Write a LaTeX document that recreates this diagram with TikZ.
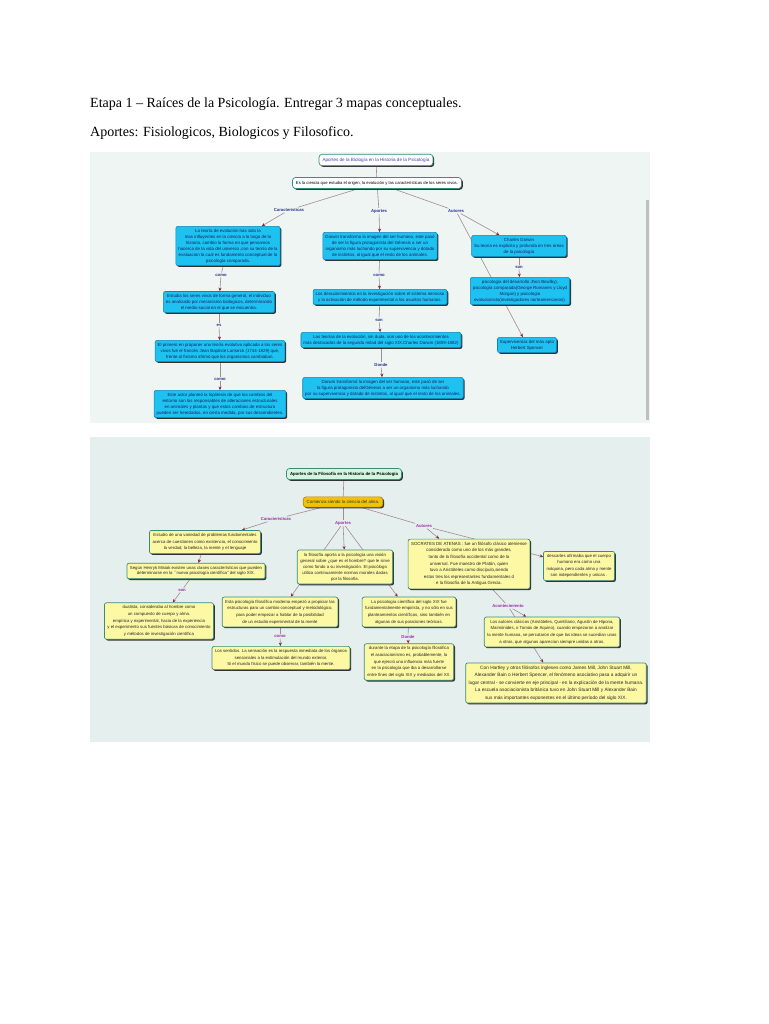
\documentclass[tikz,border=0pt]{standalone}
\usepackage{fontspec}
\setmainfont{Liberation Serif}
\newfontfamily\mapfont{Liberation Sans}
\usetikzlibrary{arrows.meta,shadows}
\pgfdeclarelayer{panel}
\pgfdeclarelayer{edges}
\pgfsetlayers{panel,edges,main}
\definecolor{paneltop}{HTML}{EEF5F3}
\definecolor{panelbot}{HTML}{E5EFED}
\definecolor{cyanfill}{HTML}{1DC2F0}
\definecolor{cyanline}{HTML}{0E86B8}
\definecolor{navytext}{HTML}{1A2060}
\definecolor{yellowfill}{HTML}{FCF8A4}
\definecolor{tealline}{HTML}{3C8C7C}
\definecolor{linkgray}{HTML}{A38C8E}
\definecolor{tipred}{HTML}{8E1E36}
\definecolor{labelblue}{HTML}{2A2F8A}
\definecolor{labelpurple}{HTML}{9B2CA6}
\definecolor{mintfill}{HTML}{D4F6DF}
\definecolor{goldfill}{HTML}{F2C300}
\definecolor{goldline}{HTML}{B38B00}
\definecolor{titleblue}{HTML}{3445B8}
\begin{document}
\begin{tikzpicture}[x=1pt,y=-1pt,
        shadowed/.style = {drop shadow={shadow xshift=1.3pt,
            shadow yshift=-1.3pt, fill=black!80, opacity=1}},
        cyanbox/.style = {shadowed, draw=cyanline, fill=cyanfill,
            rounded corners=2pt, line width=0.6pt, align=center,
            text=navytext, inner sep=2.5pt,
            font=\mapfont\fontsize{4.4}{6}\selectfont},
        yellowbox/.style = {shadowed, draw=tealline, fill=yellowfill,
            rounded corners=2pt, line width=0.7pt, align=center,
            text=black!85, inner sep=3pt,
            font=\mapfont\fontsize{4.3}{6.6}\selectfont},
        whitebox/.style = {shadowed, draw=tealline, fill=white,
            rounded corners=3pt, line width=0.7pt, inner sep=3.5pt,
            font=\mapfont\fontsize{4.3}{5}\selectfont},
        toplabel/.style = {text=labelblue, inner sep=1pt,
            font=\mapfont\bfseries\fontsize{4.2}{5}\selectfont},
        botlabel/.style = {text=labelpurple, inner sep=1pt,
            font=\mapfont\bfseries\fontsize{4.2}{5}\selectfont},
        link/.style = {draw=linkgray, line width=0.6pt},
        arr/.style = {link, -{Stealth[length=3.5pt,width=3pt,color=tipred]}}]

    \useasboundingbox (0,0) rectangle (768,1024);

    % Heading
    \node[anchor=base west, inner sep=0, font=\fontsize{14}{16}\selectfont]
        (head1) at (90,108) {Etapa 1 -- Raíces de la Psicología. Entregar 3 mapas conceptuales.};
    \node[anchor=base west, inner sep=0, font=\fontsize{14}{16}\selectfont]
        (head2) at (90,137) {Aportes: Fisiologicos, Biologicos y Filosofico.};

    % Panels
    \begin{pgfonlayer}{panel}
        \fill[white] (0,0) rectangle (768,1024);
        \fill[paneltop] (90,152) rectangle (650,423);
        \fill[black!25] (646,200) rectangle (649,420);
        \fill[panelbot] (90,437) rectangle (650,742);
    \end{pgfonlayer}

    % Biologia map
    \node[whitebox, text=titleblue, font=\mapfont\fontsize{4.6}{5}\selectfont] (btitle) at (376,160)
        {Aportes de la Biología en la Historia de la Psicología};
    \node[whitebox, text=black, font=\mapfont\fontsize{4.2}{5}\selectfont] (bdef) at (377,183)
        {Es la ciencia que estudia el origen, la evolución y las características de los seres vivos.};
    \node[toplabel] (bcar) at (289,210) {Caracteristicas};
    \node[toplabel] (bapo) at (379,211) {Aportes};
    \node[toplabel] (baut) at (456,211) {Autores};

    \node[cyanbox] (bleft1) at (228,246) {La teoría de evolución has sido la\\
        mas influyentes en la ciencia a lo largo de la\\
        historia, cambio la forma en que pensamos\\
        hacerca de la vida del universo ,con su teoría de la\\
        evaluacion la cual es fundamento conceptual de la\\
        psicología comparada.};
    \node[toplabel] (bcomo1) at (221,275) {como};
    \node[cyanbox] (bleft2) at (219,302) {Estudia los seres vivos de forma general, el individuo\\
        es analizado por  mecanismo biologicos, determinando\\
        el medio social en el que se encuentra.};
    \node[toplabel] (bes) at (219,325) {es};
    \node[cyanbox] (bleft3) at (220,351) {El primero en proponer una teoría evolutiva aplicada a los seres\\
        vivos fue el francés Jean Baptiste Lamarck (1744-1829) que,\\
        frente al fixismo afirmó que los organismos cambiaban.};
    \node[toplabel] (bcomo2) at (220,379) {como};
    \node[cyanbox] (bleft4) at (220,404) {Este actor planteó la hipótesis de que los cambios del\\
        entorno son los responsables de alteraciones  estructurales\\
        en animales y plantas y que estos cambios de estructura\\
        pueden ser heredados, en cierta medida, por sus descendientes.};

    \node[cyanbox] (bmid1) at (380,246) {Darwin transformo la imagen del ser humano, este pasó\\
        de ser la figura protagonista del Génesis a ser un\\
        organismo más luchando por su supervivencia y dotado\\
        de instintos, al igual que el resto de los animales.};
    \node[toplabel] (bcomo3) at (379,275) {como};
    \node[cyanbox] (bmid2) at (380,297) {Los descubrimientos en la investigación sobre el sistema nervioso\\
        y la activación de método experimental a los asuntos humanos.};
    \node[toplabel] (bson1) at (379,320) {son};
    \node[cyanbox] (bmid3) at (381,340) {Las teorías de la evolución, sin duda, son uno de los acontecimientos\\
        más destacados de la segunda mitad del siglo XIX.Charles Darwin (1809-1882)};
    \node[toplabel] (bdonde) at (381,365) {Donde};
    \node[cyanbox] (bmid4) at (383,388) {Darwin transformó la imagen del ser humano, este pasó de ser\\
        la figura protagonista delGénesis a ser un organismo más luchando\\
        por su supervivencia y dotado de instintos, al igual que el resto de los animales.};

    \node[cyanbox] (bright1) at (519,246) {Charles Darwin\\
        Su teoría es explicita y profunda en tres áreas\\
        de la psicología};
    \node[toplabel] (bson2) at (519,267) {son};
    \node[cyanbox] (bright2) at (520,291) {psicología del desarrollo  Jhon Bowlby),\\
        psicología comparada(George Romanes y Lloyd\\
        Morgan) y psicología\\
        evolucionista(investigadores norteamericanos).};
    \node[cyanbox] (bright3) at (527,345) {Supervivencia del más apto\\
        Herbert Spencer};

    % Filosofia map
    \node[whitebox, fill=mintfill, font=\mapfont\bfseries\fontsize{4.3}{5}\selectfont]
        (ftitle) at (344,474) {Aportes de la Filosofía en la Historia de la Psicología};
    \node[whitebox, fill=goldfill, draw=goldline, text=black!80, font=\mapfont\fontsize{4.4}{5}\selectfont]
        (fdef) at (343,502) {Comienza siendo la ciencia del alma.};
    \node[botlabel] (fcar) at (276,519) {Caracteristicas};
    \node[botlabel] (fapo) at (343,523) {Aportes};
    \node[botlabel] (faut) at (424,526) {Autores};

    \node[yellowbox] (fleft1) at (205,542) {Estudio de una variedad de problemas fundamentales\\
        acerca de cuestiones como existencia, el conocimiento\\
        la verdad, la belleza, la mente y el lenguaje};
    \node[yellowbox, font=\mapfont\fontsize{4.3}{5.4}\selectfont] (fleft2) at (196,571)
        {Según Henryk Misiak existen unas clases características que pueden\\
        determinarse en la ``nueva psicología científica'' del siglo XIX.};
    \node[botlabel] (fson) at (182,590) {son};
    \node[yellowbox] (fleft3) at (159,621) {dualista, consideraba al hombre como\\
        un compuesto de cuerpo y alma.\\
        empírica y experimental, hacia de la experiencia\\
        y el experimento sus fuentes básicas de conocimiento\\
        y métodos de investigación científica};

    \node[yellowbox, font=\mapfont\fontsize{4.3}{6}\selectfont] (fmid1) at (345,567)
        {la filosofía aporta a la psicología una visión\\
        general sobre ¿que es el hombre? que le sirve\\
        como fondo a su investigación. El psicólogo\\
        utiliza continuamente normas morales dadas\\
        por la filosofía.};
    \node[yellowbox] (fmid2) at (280,612) {Esta psicología filosófica moderna empezó a propiciar las\\
        estructuras para un cambio conceptual y metodológico,\\
        para poder empezar a hablar de la posibilidad\\
        de un estudio experimental de la mente};
    \node[botlabel] (fcomo) at (280,636) {como};
    \node[yellowbox] (fmid3) at (281,658) {Los sentidos. La sensación es la respuesta inmediata de los órganos\\
        sensoriales a la estimulación del mundo exterior.\\
        Si el mundo físico se puede observar, también la mente.};
    \node[yellowbox] (fmid4) at (409,612) {La psicología científica del siglo XIX fue\\
        fundamentalmente empirista, y no sólo en sus\\
        planteamientos científicos, sino también en\\
        algunas de sus posiciones teóricas.};
    \node[botlabel] (fdonde) at (408,637) {Donde};
    \node[yellowbox] (fmid5) at (409,662) {durante la etapa de la psicología filosófica\\
        el asociacionismo es, probablemente, la\\
        que ejerció una influencia más fuerte\\
        en la psicología que iba a desarrollarse\\
        entre fines del siglo XIX y mediados del XX.};

    \node[yellowbox, font=\mapfont\fontsize{4.4}{6.6}\selectfont] (fright1) at (469,564)
        {SOCRATES DE ATENAS : fue un filósofo clásico ateniense\\
        considerado como uno de los más grandes,\\
        tanto de la filosofía occidental como de la\\
        universal. Fue maestro de Platón, quien\\
        tuvo a Aristóteles como discípulo,siendo\\
        estos tres los representantes fundamentales d\\
        e la filosofía de la Antigua Grecia.};
    \node[yellowbox, font=\mapfont\fontsize{4.3}{6.4}\selectfont] (fside) at (579,566)
        {descartes afirmaba que el cuerpo\\
        humano era como una\\
        máquina, pero cada alma y mente\\
        son independientes y unicas .};
    \node[botlabel] (facon) at (508,606) {Acontecimiento};
    \node[yellowbox] (fright2) at (552,632) {Los autores clásicos (Aristóteles, Quintiliano, Agustín de Hipona,\\
        Maimónides, o Tomás de Aquino), cuando empezaron a analizar\\
        la mente humana, se percataron de que las ideas se sucedían unas\\
        a otras, que algunas aparecían siempre unidas a otras.};
    \node[yellowbox, font=\mapfont\fontsize{4.75}{7.4}\selectfont] (fright3) at (556,683)
        {Con Hartley y otros filósofos ingleses como James Mill, John Stuart Mill,\\
        Alexander Bain o Herbert Spencer, el fenómeno asociativo pasa a adquirir un\\
        lugar central - se convierte en eje principal - en la explicación de la mente humana.\\
        La escuela asociacionista británica tuvo en John Stuart Mill y Alexander Bain\\
        sus más importantes exponentes en el último período del siglo XIX.};

    % Connectors
    \begin{pgfonlayer}{edges}
        \draw[link] (btitle) -- (bdef);
        \draw[link] (bdef) -- (bcar);
        \draw[link] (bdef) -- (bapo);
        \draw[link] (bdef) -- (baut);
        \draw[arr] (bcar) -- (bleft1);
        \draw[arr] (bapo) -- (bmid1);
        \draw[arr] (baut) -- (bright1);
        \draw[arr] (baut) -- (bright3);
        \draw[link] (bleft1) -- (bcomo1);
        \draw[arr] (bcomo1) -- (bleft2);
        \draw[link] (bleft2) -- (bes);
        \draw[arr] (bes) -- (bleft3);
        \draw[link] (bleft3) -- (bcomo2);
        \draw[arr] (bcomo2) -- (bleft4);
        \draw[link] (bmid1) -- (bcomo3);
        \draw[arr] (bcomo3) -- (bmid2);
        \draw[link] (bmid2) -- (bson1);
        \draw[arr] (bson1) -- (bmid3);
        \draw[link] (bmid3) -- (bdonde);
        \draw[arr] (bdonde) -- (bmid4);
        \draw[link] (bright1) -- (bson2);
        \draw[arr] (bson2) -- (bright2);

        \draw[link] (ftitle) -- (fdef);
        \draw[link] (fdef) -- (fcar);
        \draw[link] (fdef) -- (fapo);
        \draw[link] (fdef) -- (faut);
        \draw[arr] (fcar) -- (fleft1);
        \draw[arr] (fleft1) -- (fleft2);
        \draw[link] (fleft2) -- (fson);
        \draw[arr] (fson) -- (fleft3);
        \draw[arr] (fapo) -- (fmid1);
        \draw[arr] (fapo) -- (fmid2);
        \draw[arr] (fapo) -- (fmid4);
        \draw[link] (fmid2) -- (fcomo);
        \draw[arr] (fcomo) -- (fmid3);
        \draw[link] (fmid4) -- (fdonde);
        \draw[arr] (fdonde) -- (fmid5);
        \draw[arr] (faut) -- (fright1);
        \draw[arr] (faut) -- (fside);
        \draw[link] (fright1) -- (facon);
        \draw[arr] (facon) -- (fright2);
        \draw[arr] (facon) -- (fright3);
    \end{pgfonlayer}

\end{tikzpicture}
\end{document}
